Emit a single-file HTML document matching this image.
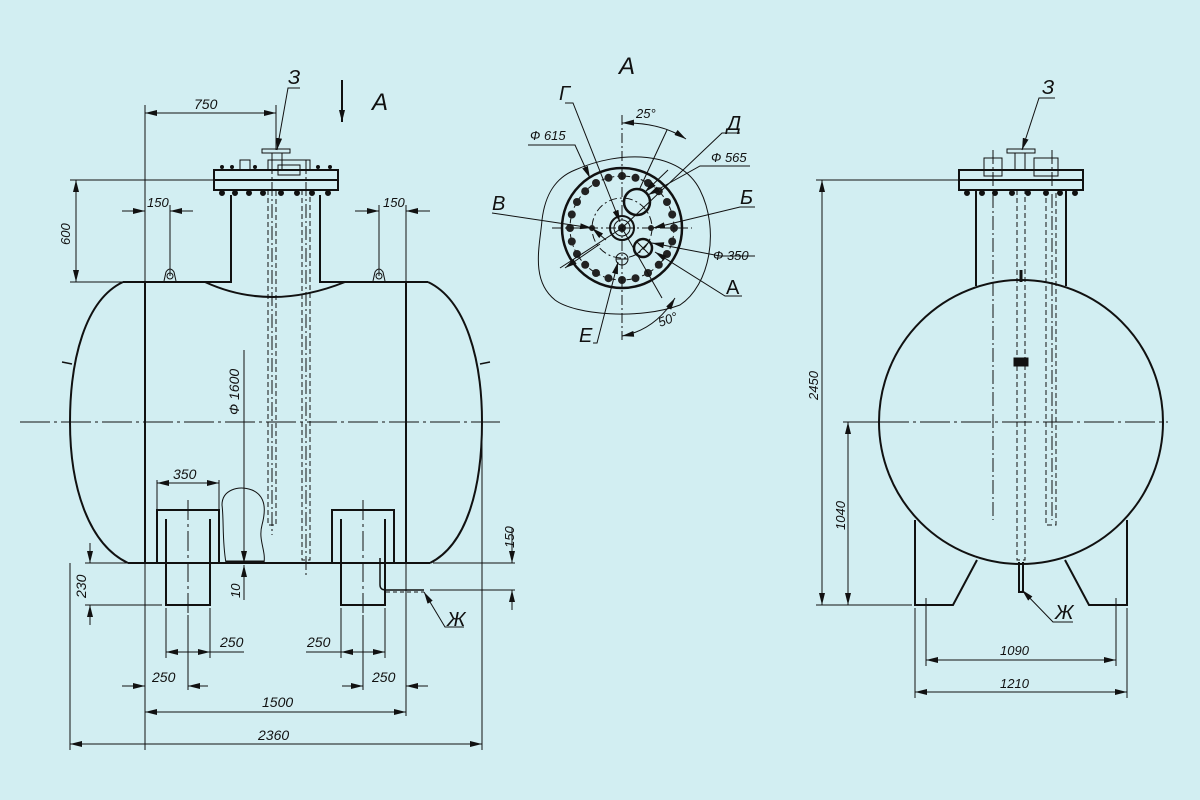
<!DOCTYPE html>
<html><head><meta charset="utf-8"><style>
html,body{margin:0;padding:0;background:#d2eef2;}
svg{display:block}
text{font-family:"Liberation Sans",sans-serif;font-style:italic;fill:#111}
</style></head><body>
<svg width="1200" height="800" viewBox="0 0 1200 800" xmlns="http://www.w3.org/2000/svg">
<defs>
<marker id="ar" viewBox="0 0 12 6" refX="12" refY="3" markerWidth="12" markerHeight="6" orient="auto-start-reverse" markerUnits="userSpaceOnUse"><path d="M0,0 L12,3 L0,6 Z" fill="#111"/></marker>
</defs>
<rect width="1200" height="800" fill="#d2eef2"/>
<g stroke="#111" fill="none" stroke-width="1">
<!-- ===== LEFT VIEW ===== -->
<g stroke-width="2">
<path d="M123,282 L205,282 M345,282 L428,282"/>
<path d="M123,282 C85,300 70,360 70,422 C70,490 90,545 128,563"/>
<path d="M428,282 C466,300 482,360 482,422 C482,490 466,545 430,563"/>
<path d="M128,563 L157,563 M219,563 L332,563 M394,563 L430,563"/>
<path d="M205,282 Q270,312 345,282"/>
<path d="M205,282 L231,282 L231,195 M320,195 L320,282 L345,282"/>
<rect x="214" y="170" width="124" height="20"/>
<path d="M214,180 L338,180"/>
<rect x="157" y="510" width="62" height="53"/>
<path d="M166,519 L166,605 L210,605 L210,519"/>
<rect x="332" y="510" width="62" height="53"/>
<path d="M341,519 L341,605 L385,605 L385,519"/>
</g>
<path d="M145,282 L145,563 M406,282 L406,563" stroke-width="2"/>
<rect x="240" y="160" width="10" height="10"/>
<rect x="262" y="149" width="28" height="4"/>
<path d="M272,153 L272,170 M282,153 L282,170"/>
<rect x="268" y="160" width="42" height="10"/>
<rect x="278" y="165" width="22" height="10"/>
<g fill="#111"><circle cx="222" cy="193" r="2.5"/><circle cx="235" cy="193" r="2.5"/><circle cx="249" cy="193" r="2.5"/><circle cx="263" cy="193" r="2.5"/><circle cx="281" cy="193" r="2.5"/><circle cx="297" cy="193" r="2.5"/><circle cx="312" cy="193" r="2.5"/><circle cx="328" cy="193" r="2.5"/>
<circle cx="222" cy="167" r="1.5"/><circle cx="232" cy="167" r="1.5"/><circle cx="255" cy="167" r="1.5"/><circle cx="318" cy="167" r="1.5"/><circle cx="330" cy="167" r="1.5"/></g>
<path d="M268,190 L268,525 L276,525 L276,190 M302,190 L302,560 L310,560 L310,190" stroke-dasharray="5,3"/>
<path d="M272,160 L272,535 M306,160 L306,575" stroke-dasharray="14,3,2,3"/>
<path d="M164,281 L166,272 Q170,266 174,272 L176,281"/><circle cx="170" cy="276" r="3"/>
<path d="M373,281 L375,272 Q379,266 383,272 L385,281"/><circle cx="379" cy="276" r="3"/>
<path d="M62,362 L72,364 M490,362 L480,364" stroke-width="1.5"/>
<path d="M226,563 C222,540 224,520 222,505 C222,490 238,485 252,490 C266,496 266,510 262,525 C258,540 266,550 264,563"/>
<path d="M226,562 L264,562" stroke-width="3"/>
<path d="M380,558 L380,585 Q380,590 386,590 L424,590" stroke-width="1.5"/>
<path d="M386,592 L424,592" stroke-dasharray="4,3"/>
<path d="M20,422 L500,422" stroke-dasharray="30,4,3,4"/>
<path d="M188,500 L188,615 M363,500 L363,615" stroke-dasharray="20,4,3,4"/>
<path d="M145,105 L145,750 M276,105 L276,150"/>
<path d="M145,113 L276,113" marker-start="url(#ar)" marker-end="url(#ar)"/>
<path d="M70,180 L214,180 M70,282 L123,282"/>
<path d="M76,180 L76,282" marker-start="url(#ar)" marker-end="url(#ar)"/>
<path d="M170,205 L170,276 M406,205 L406,282 M379,205 L379,276"/>
<path d="M122,211 L145,211" marker-end="url(#ar)"/><path d="M193,211 L170,211" marker-end="url(#ar)"/>
<path d="M355,211 L379,211" marker-end="url(#ar)"/><path d="M430,211 L406,211" marker-end="url(#ar)"/>
<path d="M244,350 L244,563" marker-end="url(#ar)"/>
<path d="M244,600 L244,565" marker-end="url(#ar)"/>
<path d="M157,480 L157,510 M219,480 L219,510"/>
<path d="M157,483 L219,483" marker-start="url(#ar)" marker-end="url(#ar)"/>
<path d="M85,563 L157,563 M85,605 L162,605"/>
<path d="M90,543 L90,563" marker-end="url(#ar)"/><path d="M90,625 L90,605" marker-end="url(#ar)"/>
<path d="M433,563 L515,563 M430,590 L515,590"/>
<path d="M512,528 L512,563" marker-end="url(#ar)"/><path d="M512,610 L512,590" marker-end="url(#ar)"/>
<path d="M166,608 L166,658 M210,608 L210,658 M341,608 L341,658 M385,608 L385,658"/>
<path d="M166,652 L210,652 L244,652" marker-start="url(#ar)"/><path d="M210,652 L188,652" marker-start="url(#ar)"/>
<path d="M306,652 L341,652 L385,652" marker-end="url(#ar)"/><path d="M341,652 L363,652" marker-start="url(#ar)"/>
<path d="M188,615 L188,690 M363,615 L363,690 M406,563 L406,716 M70,563 L70,750 M482,422 L482,750"/>
<path d="M122,686 L145,686" marker-end="url(#ar)"/><path d="M208,686 L188,686" marker-end="url(#ar)"/>
<path d="M342,686 L363,686" marker-end="url(#ar)"/><path d="M428,686 L406,686" marker-end="url(#ar)"/>
<path d="M145,712 L406,712" marker-start="url(#ar)" marker-end="url(#ar)"/>
<path d="M70,744 L482,744" marker-start="url(#ar)" marker-end="url(#ar)"/>
<path d="M300,88 L288,88 L277,150" marker-end="url(#ar)"/>
<path d="M342,80 L342,122" stroke-width="2" marker-end="url(#ar)"/>
<path d="M464,627 L445,627 L424,592" marker-end="url(#ar)"/>
<!-- ===== VIEW A ===== -->
<path d="M575,170 C620,150 680,150 700,190 C720,230 710,285 680,305 C640,320 575,315 555,300 C530,280 540,245 542,220 C545,195 555,178 575,170 Z"/>
<circle cx="622" cy="228" r="60" stroke-width="2.5"/>
<circle cx="622" cy="228" r="52" stroke-dasharray="5,3"/>
<circle cx="622" cy="228" r="30" stroke-dasharray="8,3,2,3"/>
<g fill="#222" stroke="none">
<circle cx="622" cy="176" r="4"/><circle cx="635.5" cy="177.8" r="4"/><circle cx="648" cy="183" r="4"/><circle cx="658.8" cy="191.2" r="4"/><circle cx="667" cy="202" r="4"/><circle cx="672.2" cy="214.5" r="4"/><circle cx="674" cy="228" r="4"/><circle cx="672.2" cy="241.5" r="4"/><circle cx="667" cy="254" r="4"/><circle cx="658.8" cy="264.8" r="4"/><circle cx="648" cy="273" r="4"/><circle cx="635.5" cy="278.2" r="4"/><circle cx="622" cy="280" r="4"/><circle cx="608.5" cy="278.2" r="4"/><circle cx="596" cy="273" r="4"/><circle cx="585.2" cy="264.8" r="4"/><circle cx="577" cy="254" r="4"/><circle cx="571.8" cy="241.5" r="4"/><circle cx="570" cy="228" r="4"/><circle cx="571.8" cy="214.5" r="4"/><circle cx="577" cy="202" r="4"/><circle cx="585.2" cy="191.2" r="4"/><circle cx="596" cy="183" r="4"/><circle cx="608.5" cy="177.8" r="4"/>
<circle cx="592" cy="228" r="3"/><circle cx="651" cy="228" r="3"/><circle cx="622" cy="228" r="4"/>
</g>
<circle cx="622" cy="228" r="12" stroke-width="2"/><circle cx="622" cy="228" r="8"/>
<circle cx="637" cy="202" r="13" stroke-width="2.5"/>
<circle cx="643" cy="248" r="9" stroke-width="2.5"/><path d="M637,242 L649,254 M649,242 L637,254"/>
<circle cx="622" cy="259" r="6"/><path d="M616,259 L628,259"/>
<path d="M622,115 L622,340 M552,228 L692,228" stroke-dasharray="10,3,2,3"/>
<path d="M622,123 Q660,122 686,139" marker-start="url(#ar)" marker-end="url(#ar)"/>
<path d="M667,130 L640,188"/>
<path d="M675,298 Q655,330 622,336" marker-start="url(#ar)" marker-end="url(#ar)"/>
<path d="M622,228 L662,298"/>
<path d="M565,103 L573,103 L620,222" marker-end="url(#ar)"/>
<path d="M528,145 L575,145 L590,178" marker-end="url(#ar)"/>
<path d="M740,133 L722,133 L622,228"/><path d="M668,170 L645,192" marker-end="url(#ar)"/>
<path d="M750,166 L700,166 L648,195" marker-end="url(#ar)"/>
<path d="M492,213 L592,228" marker-end="url(#ar)"/>
<path d="M755,207 L740,207 L653,228" marker-end="url(#ar)"/>
<path d="M755,256 L720,256 L652,243" marker-end="url(#ar)"/>
<path d="M742,296 L725,296 L655,252" marker-end="url(#ar)"/>
<path d="M593,343 L597,343 L618,262" marker-end="url(#ar)"/>
<path d="M560,268 L622,228"/><path d="M600,244 L565,268" marker-end="url(#ar)"/>
<path d="M592,228 L606,240" marker-start="url(#ar)"/>
<!-- ===== RIGHT VIEW ===== -->
<circle cx="1021" cy="422" r="142" stroke-width="2"/>
<path d="M879,422 L1168,422" stroke-dasharray="30,4,3,4"/>
<g stroke-width="2">
<path d="M976,190 L976,286 M1066,190 L1066,286"/>
<rect x="959" y="170" width="124" height="20"/><path d="M959,180 L1083,180"/>
<path d="M915,520 L915,605 L953,605 L977,560"/>
<path d="M1127,520 L1127,605 L1089,605 L1065,560"/>
<path d="M1019,562 L1019,592 L1023,592 L1023,562"/>
</g>
<g fill="#111"><circle cx="967" cy="193" r="2.5"/><circle cx="982" cy="193" r="2.5"/><circle cx="995" cy="193" r="2.5"/><circle cx="1012" cy="193" r="2.5"/><circle cx="1028" cy="193" r="2.5"/><circle cx="1046" cy="193" r="2.5"/><circle cx="1060" cy="193" r="2.5"/><circle cx="1075" cy="193" r="2.5"/></g>
<rect x="984" y="158" width="18" height="18"/><rect x="1034" y="158" width="24" height="18"/>
<rect x="1007" y="149" width="28" height="4"/><path d="M1015,153 L1015,170 M1025,153 L1025,170"/>
<path d="M993,150 L993,520 M1052,150 L1052,520" stroke-dasharray="14,3,2,3"/>
<path d="M1017,190 L1017,560 L1025,560 L1025,190 M1046,190 L1046,525 L1056,525 L1056,190" stroke-dasharray="5,3"/>
<rect x="1014" y="358" width="14" height="8" fill="#111"/>
<path d="M1021,270 L1021,282" stroke-width="3"/>
<path d="M926,598 L926,666 M1116,598 L1116,666 M915,608 L915,698 M1127,608 L1127,698"/>
<path d="M926,660 L1116,660" marker-start="url(#ar)" marker-end="url(#ar)"/>
<path d="M915,692 L1127,692" marker-start="url(#ar)" marker-end="url(#ar)"/>
<path d="M816,180 L959,180 M816,605 L912,605 M843,422 L879,422"/>
<path d="M822,180 L822,605" marker-start="url(#ar)" marker-end="url(#ar)"/>
<path d="M848,422 L848,605" marker-start="url(#ar)" marker-end="url(#ar)"/>
<path d="M1055,98 L1039,98 L1022,150" marker-end="url(#ar)"/>
<path d="M1073,622 L1053,622 L1022,590" marker-end="url(#ar)"/>
</g>
<!-- TEXT -->
<g font-size="14">
<text x="194" y="109">750</text>
<text x="288" y="84" font-size="20">З</text>
<text x="372" y="110" font-size="24">A</text>
<text x="147" y="207" font-size="13">150</text>
<text x="383" y="207" font-size="13">150</text>
<text transform="translate(70,245) rotate(-90)" font-size="13">600</text>
<text transform="translate(239,415) rotate(-90)">Ф 1600</text>
<text x="173" y="479">350</text>
<text transform="translate(86,598) rotate(-90)">230</text>
<text transform="translate(240,598) rotate(-90)" font-size="13">10</text>
<text transform="translate(514,548) rotate(-90)" font-size="13">150</text>
<text x="220" y="647">250</text>
<text x="307" y="647">250</text>
<text x="152" y="682">250</text>
<text x="372" y="682">250</text>
<text x="262" y="707">1500</text>
<text x="258" y="740">2360</text>
<text x="447" y="626" font-size="20">Ж</text>
<text x="619" y="74" font-size="24">A</text>
<text x="559" y="100" font-size="20">Г</text>
<text x="636" y="118" font-size="13">25°</text>
<text x="727" y="130" font-size="20">Д</text>
<text x="530" y="140" font-size="13">Ф 615</text>
<text x="711" y="162" font-size="13">Ф 565</text>
<text x="492" y="210" font-size="20">В</text>
<text x="740" y="204" font-size="20">Б</text>
<text x="713" y="260" font-size="13">Ф 350</text>
<text x="726" y="294" font-size="20" style="font-style:normal">А</text>
<text transform="translate(660,327) rotate(-20)" font-size="13">50°</text>
<text x="579" y="342" font-size="20">Е</text>
<text x="1042" y="94" font-size="20">З</text>
<text transform="translate(818,400) rotate(-90)" font-size="13">2450</text>
<text transform="translate(845,530) rotate(-90)" font-size="13">1040</text>
<text x="1000" y="655" font-size="13">1090</text>
<text x="1000" y="688" font-size="13">1210</text>
<text x="1055" y="619" font-size="20">Ж</text>
</g>
</svg>
</body></html>
